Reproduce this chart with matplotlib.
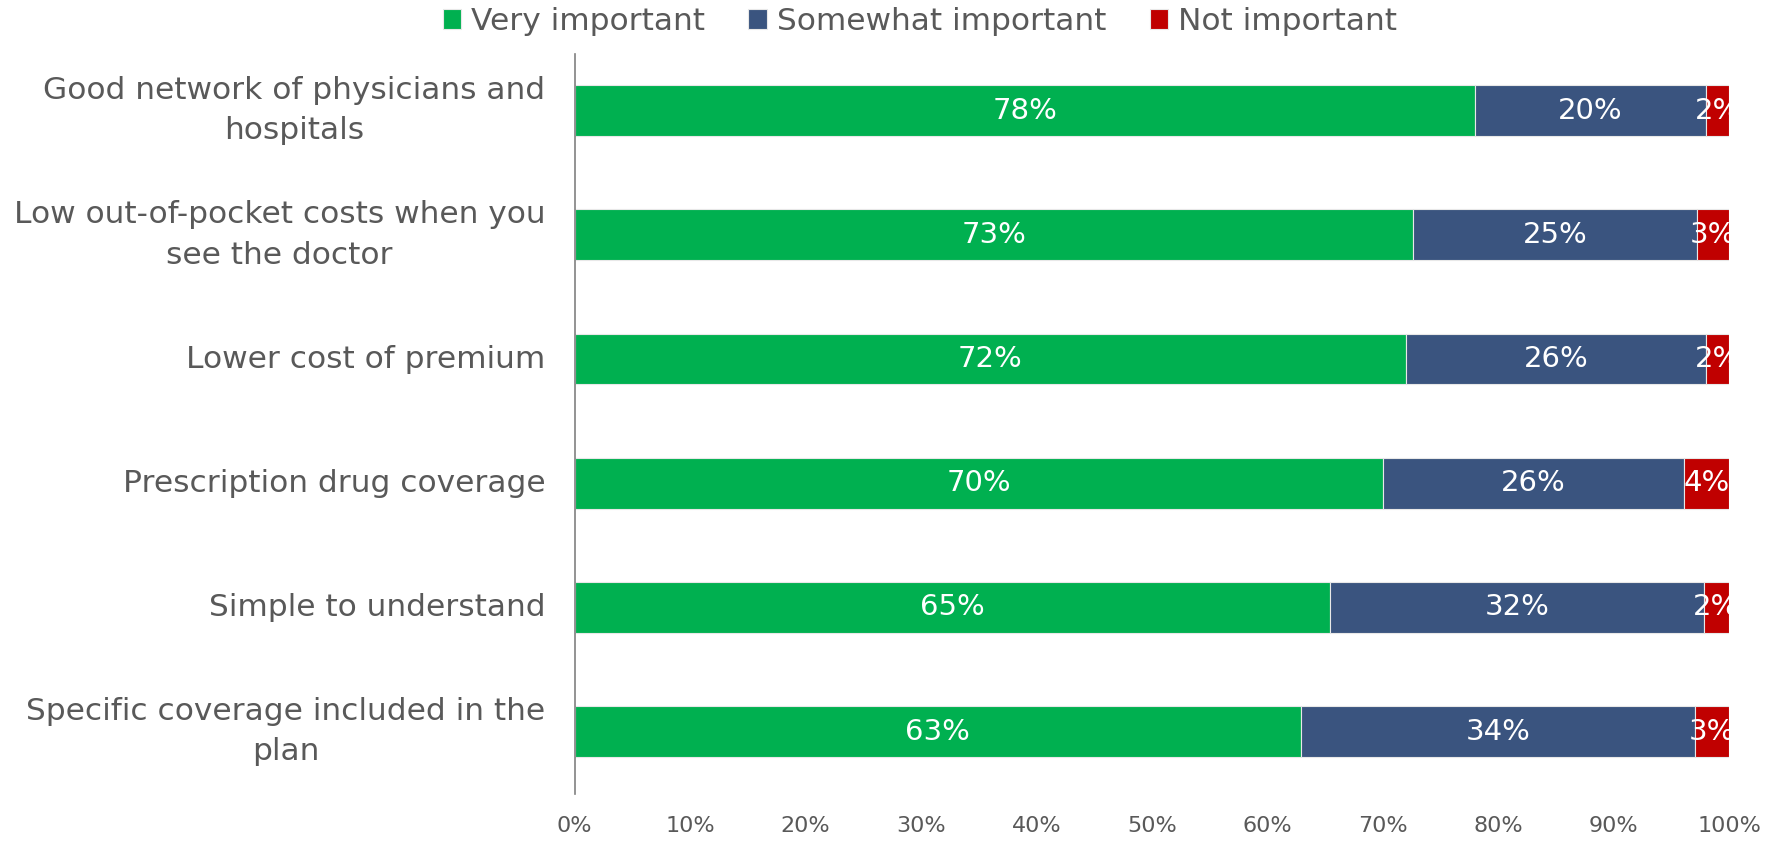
import matplotlib
matplotlib.use('Agg')
import matplotlib.pyplot as plt
from matplotlib.ticker import PercentFormatter

# data
categories = ['Good network of physicians and\nhospitals',
              'Low out-of-pocket costs when you\nsee the doctor',
              'Lower cost of premium',
              'Prescription drug coverage',
              'Simple to understand',
              'Specific coverage included in the\nplan']
very = [78.0, 72.6, 72.0, 70.0, 65.4, 62.9]
somewhat = [20.0, 24.6, 26.0, 26.1, 32.4, 34.1]
notimp = [2.0, 2.8, 2.0, 3.9, 2.2, 3.0]
series_names = ['Very important', 'Somewhat important', 'Not important']
colors = ['#00B050', '#3A547F', '#C00000']

plt.rcParams['font.family'] = ['DejaVu Sans']
grey = '#595959'

fig = plt.figure(figsize=(17.79, 8.42), dpi=100)
ax = fig.add_axes([0.323, 0.057, 0.649, 0.879])

y = list(range(len(categories)))
left = [0] * len(categories)
for vals, name, col in zip([very, somewhat, notimp], series_names, colors):
    bars = ax.barh(y, vals, left=left, height=0.41, color=col, label=name,
                   edgecolor='#E8E8E8', linewidth=0.8)
    ax.bar_label(bars, labels=['{:.0f}%'.format(v) for v in vals],
                 label_type='center', color='white', fontsize=21)
    left = [l + v for l, v in zip(left, vals)]

ax.set_xlim(0, 100)
ax.set_ylim(5.503, -0.457)
ax.set_yticks(y)
ax.set_yticklabels(categories, fontsize=22.5, color=grey)
ax.set_xticks(range(0, 101, 10))
ax.xaxis.set_major_formatter(PercentFormatter(decimals=0))
ax.tick_params(axis='x', labelsize=16, labelcolor=grey, length=0, pad=16)
ax.tick_params(axis='y', length=0, pad=21)
for s in ['top', 'right', 'bottom']:
    ax.spines[s].set_visible(False)
ax.spines['left'].set_color('#808080')
ax.spines['left'].set_linewidth(1.2)

for t in ax.get_yticklabels():
    t.set_multialignment('center')
    t.set_linespacing(1.5)
    t.set_verticalalignment('center')

leg = fig.legend(loc='center', bbox_to_anchor=(0.517, 0.974), ncol=3,
                 frameon=False, fontsize=22.5, handlelength=0.6, handleheight=0.6,
                 handletextpad=0.3, columnspacing=1.4, borderaxespad=0)
for t in leg.get_texts():
    t.set_color(grey)

fig.savefig('out.png', dpi=100)
